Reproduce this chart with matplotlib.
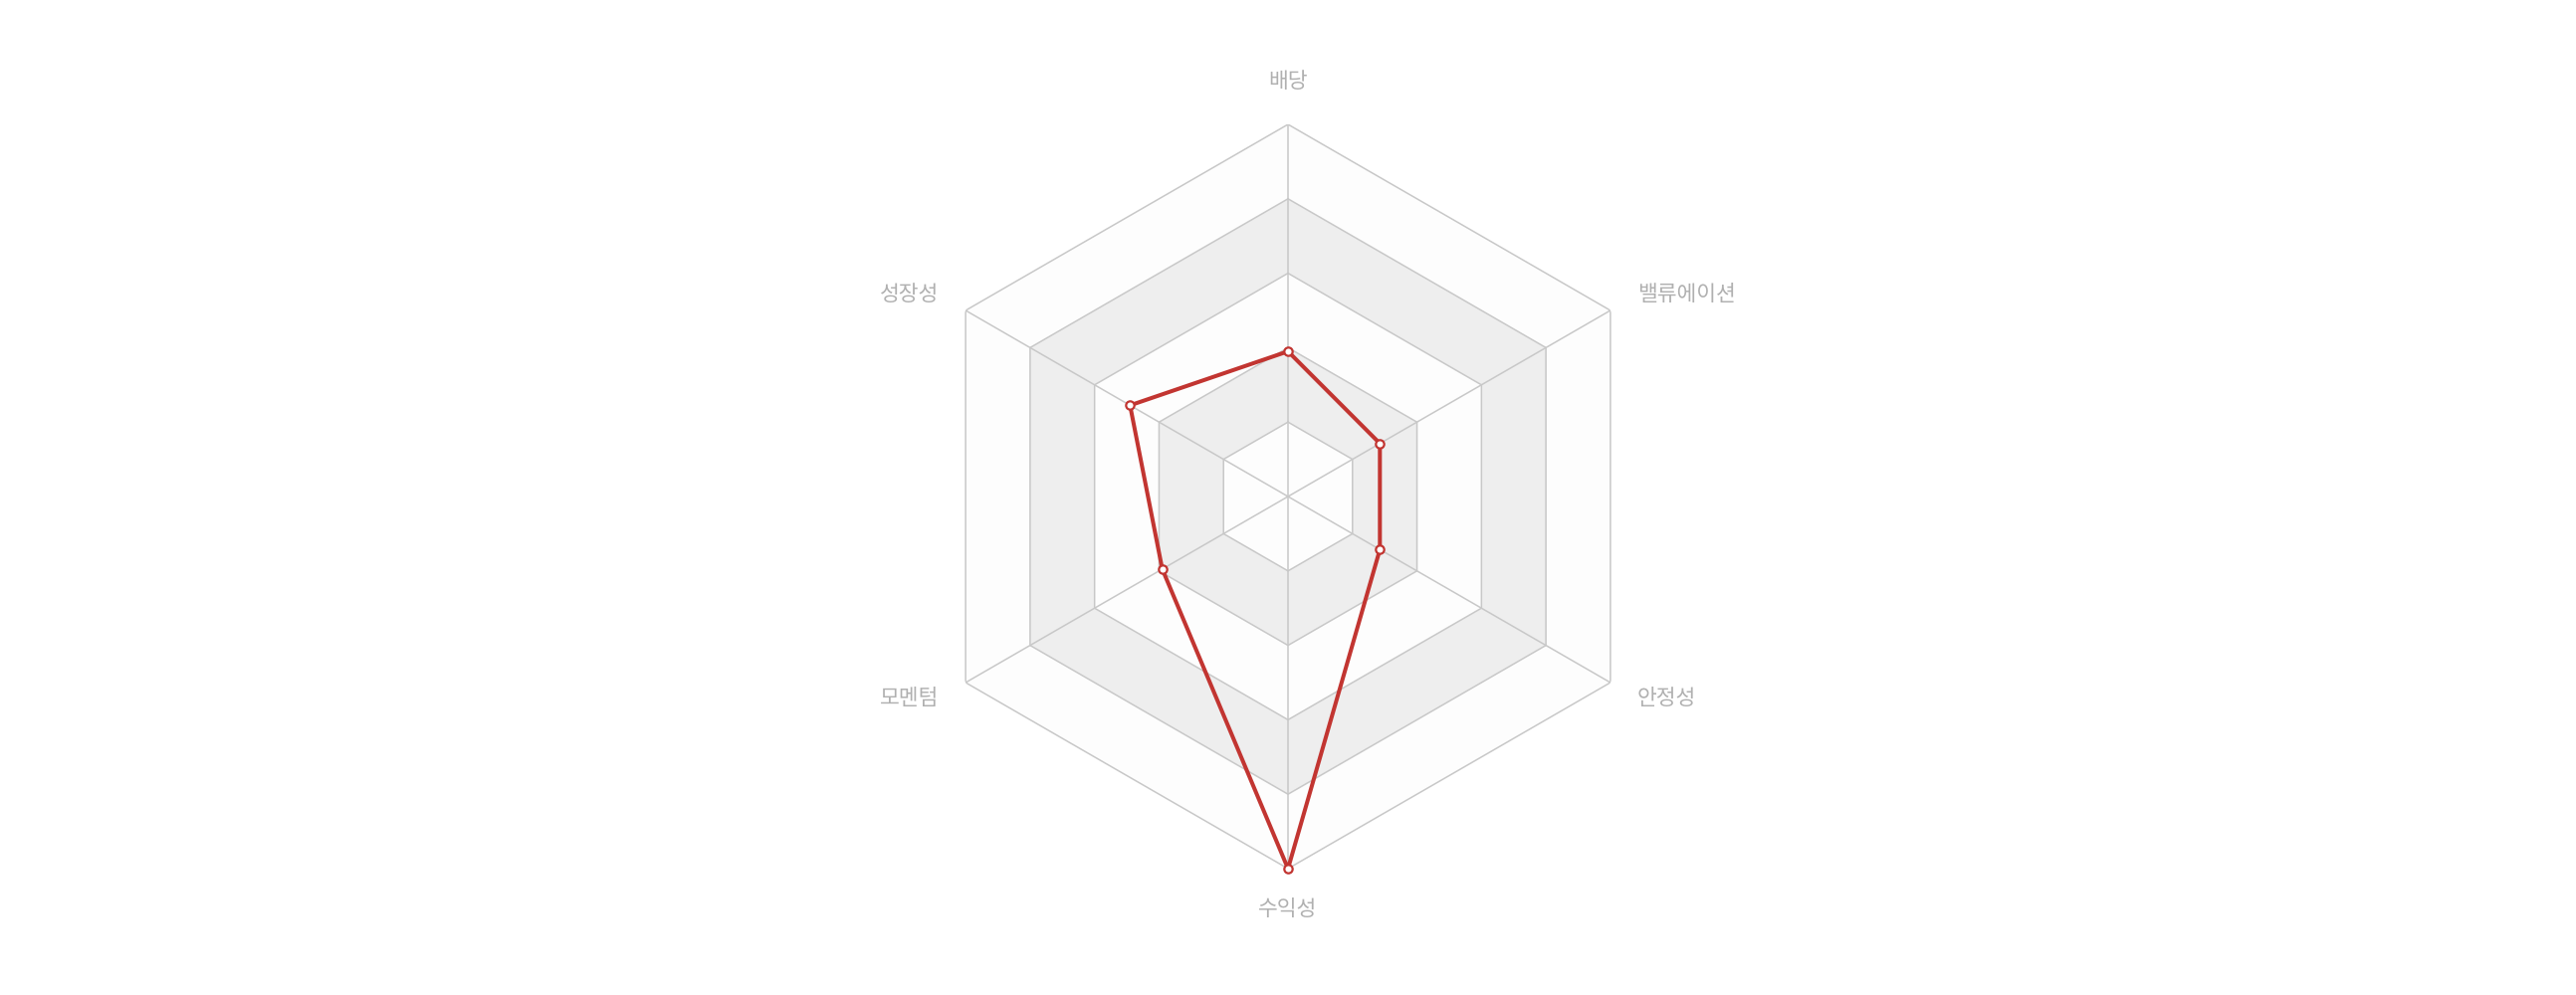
import numpy as np
import matplotlib
matplotlib.use("Agg")
import matplotlib.pyplot as plt

plt.rcParams['font.family'] = ['Noto Sans CJK KR', 'DejaVu Sans']

# radar data (max = 100)
categories = ['배당', '밸류에이션', '안정성', '수익성', '모멘텀', '성장성']
values = [39, 28.5, 28.5, 100, 39, 49]
levels = [20, 40, 60, 80, 100]

band_colors = ['#fdfdfd', '#eeeeee']
grid_color = '#c8c8c8'
line_color = '#c23531'
label_color = '#b0b0b0'

fig = plt.figure(figsize=(25.88, 10), dpi=100)
fig.patch.set_facecolor('white')

# polar axes centered on the chart area
ax = fig.add_axes([0.35549, 0.127, 0.28903, 0.748], projection='polar')
ax.set_theta_zero_location('N')
ax.set_theta_direction(-1)
ax.set_ylim(0, 100)
ax.set_axis_off()

n = len(categories)
angles = np.arange(n) * 2 * np.pi / n
closed = np.append(angles, angles[0])

# alternating split areas, outermost first
for i in range(len(levels) - 1, -1, -1):
    ax.fill(closed, [levels[i]] * (n + 1), color=band_colors[i % 2],
            zorder=1, lw=0)

# split lines
for lv in levels:
    ax.plot(closed, [lv] * (n + 1), color=grid_color, lw=1.1, zorder=2)

# axis lines
for a in angles:
    ax.plot([a, a], [0, levels[-1]], color=grid_color, lw=1.1, zorder=2)

# series
vals = np.append(values, values[0])
ax.plot(closed, vals, color=line_color, lw=2.9, zorder=3, clip_on=False)
ax.plot(angles, values, 'o', ms=6, mfc='white', mec=line_color, mew=1.6,
        zorder=4, clip_on=False)

# axis names
fs = 15.5
for a, name in zip(angles, categories):
    deg = np.degrees(a)
    if deg == 0:
        ax.text(a, 108.5, name, ha='center', va='bottom', fontsize=fs,
                color=label_color)
    elif deg == 180:
        ax.text(a, 108, name, ha='center', va='top', fontsize=fs,
                color=label_color)
    elif deg < 180:
        ax.text(a, 108.3, name, ha='left', va='center', fontsize=fs,
                color=label_color)
    else:
        ax.text(a, 108.3, name, ha='right', va='center', fontsize=fs,
                color=label_color)

fig.savefig('out.png', dpi=100, facecolor='white')
